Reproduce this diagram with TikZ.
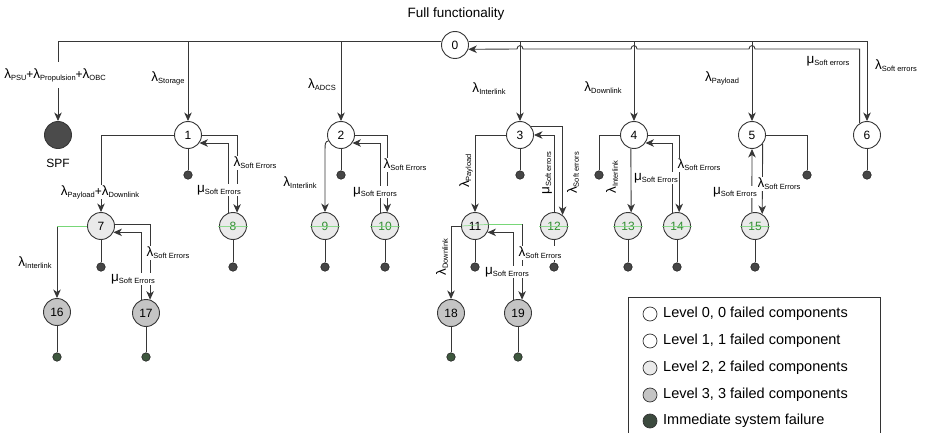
\documentclass[tikz,border=0pt]{standalone}
\usepackage{fontspec}
\setmainfont{Liberation Sans}
\usetikzlibrary{arrows.meta}

\definecolor{linec}{RGB}{55,55,55}
\definecolor{lvltwo}{RGB}{234,234,234}
\definecolor{lvlthree}{RGB}{196,196,196}
\definecolor{spfc}{RGB}{75,75,75}
\definecolor{dotc}{RGB}{70,70,70}
\definecolor{dotthree}{RGB}{62,88,62}
\definecolor{failc}{RGB}{60,74,62}
\definecolor{gline}{RGB}{120,215,120}
\definecolor{gtext}{RGB}{50,140,50}

% transition rate: Greek letter with a lowered subscript word
\newcommand{\ratelabel}[2]{{\fontsize{13.5}{13.5}\selectfont #1}\raisebox{-1.8pt}{\fontsize{7.5}{8}\selectfont #2}}
\newcommand{\lamsub}[1]{\ratelabel{λ}{#1}}
\newcommand{\musub}[1]{\ratelabel{μ}{#1}}
\newcommand{\plussign}{{\fontsize{12}{12}\selectfont +}}

\begin{document}
\begin{tikzpicture}[x=1pt,y=-1pt,
  state/.style={circle,draw=linec,line width=0.9pt,minimum size=27pt,inner sep=0pt,
                font=\fontsize{12}{12}\selectfont},
  lone/.style={state,fill=white},
  ltwo/.style={state,fill=lvltwo},
  ltwog/.style={state,fill=lvltwo,text=gtext},
  lthree/.style={state,fill=lvlthree},
  sink/.style={circle,draw=black!85,fill=dotc,line width=0.6pt,minimum size=8.5pt,inner sep=0pt},
  sinkg/.style={sink,fill=dotthree},
  wire/.style={draw=linec,line width=0.9pt},
  arr/.style={wire,-{Stealth[length=8.5pt,width=7.5pt,inset=2.5pt]}},
  gwire/.style={draw=gline,line width=0.9pt},
  gfaint/.style={draw=gline,line width=0.7pt,opacity=0.8},
  lab/.style={fill=white,inner sep=0.8pt},
  legtext/.style={anchor=west,font=\fontsize{14.5}{16}\selectfont,inner sep=0pt},
  legdot/.style={circle,draw=black!80,line width=0.7pt,minimum size=14pt,inner sep=0pt}]

\useasboundingbox (0,0) rectangle (929,433);
\fill[white] (0,0) rectangle (929,433);

% title
\node[font=\fontsize{13.5}{15}\selectfont] (title) at (456,14) {Full functionality};

% ---- states ----
\node[lone] (n0) at (455,45) {0};
\node[state,fill=spfc] (spf) at (58,135) {};
\node[font=\fontsize{12}{12}\selectfont] (spflab) at (58,163) {SPF};

\node[lone] (n1) at (188,135) {1};
\node[lone] (n2) at (341,135) {2};
\node[lone] (n3) at (520,135) {3};
\node[lone] (n4) at (634,135) {4};
\node[lone] (n5) at (752,135) {5};
\node[lone] (n6) at (867,135) {6};

\node[ltwo]  (n7)  at (101,226) {7};
\node[ltwog] (n8)  at (233,226) {8};
\node[ltwog] (n9)  at (325,226) {9};
\node[ltwog] (n10) at (385,226) {10};
\node[ltwo]  (n11) at (475,226) {11};
\node[ltwog] (n12) at (554,226) {12};
\node[ltwog] (n13) at (628,226) {13};
\node[ltwog] (n14) at (677,226) {14};
\node[ltwog] (n15) at (755,226) {15};

\node[lthree] (n16) at (57,312) {16};
\node[lthree] (n17) at (146,313) {17};
\node[lthree] (n18) at (451,313) {18};
\node[lthree] (n19) at (518,313) {19};

% ---- failure sinks ----
\node[sink] (d1) at (188,175) {};
\node[sink] (d2) at (341,175) {};
\node[sink] (d3) at (520,175) {};
\node[sink] (d4) at (599,175) {};
\node[sink] (d5) at (807,175) {};
\node[sink] (d6) at (867,175) {};
\node[sink] (d7)  at (101,267) {};
\node[sink] (d8)  at (233,267) {};
\node[sink] (d9)  at (325,267) {};
\node[sink] (d10) at (385,267) {};
\node[sink] (d11) at (475,267) {};
\node[sink] (d12) at (554,267) {};
\node[sink] (d13) at (628,267) {};
\node[sink] (d14) at (677,267) {};
\node[sink] (d15) at (755,267) {};
\node[sinkg] (d16) at (57,357) {};
\node[sinkg] (d17) at (146,357) {};
\node[sinkg] (d18) at (451,357) {};
\node[sinkg] (d19) at (518,357) {};

% ---- transitions out of full functionality ----
\draw[arr] (n0.167) -| (spf.north);
\draw[arr] (n0.167) -| (n1.north);
\draw[arr] (n0.167) -| (n2.north);
\draw[arr] (n0.13) -| (n3.north);
\draw[arr] (n0.13) -| (n4.north);
\draw[arr] (n0.13) -| (n5.north);
\draw[arr] (n0.13) -| (n6.north);
% repair of soft errors back to state 0, hopping over the drops
\draw[arr] (n6.122) |- (755,49) .. controls (755,44.5) and (749,44.5) .. (749,49)
  -- (637,49) .. controls (637,44.5) and (631,44.5) .. (631,49)
  -- (523,49) .. controls (523,44.5) and (517,44.5) .. (517,49) -- (n0.-18);

% ---- level 1 ----
\draw[wire] (n1) -- (d1);
\draw[arr] (n1.west) -| (n7.north);
\draw[arr] (n1.east) -| (n8.73);
\draw[arr] (n8.107) |- (n1.-35);

\draw[wire] (n2) -- (d2);
\draw[arr] (n2.205) .. controls (325,142) .. (325,156) -- (n9.north);
\draw[arr] (n2.east) -| (n10.81);
\draw[arr] (n10.110) |- (n2.-35);

\draw[wire] (n3) -- (d3);
\draw[arr] (n3.west) -| (n11.north);
\draw[arr] (n3.36) -| (n12.52);
\draw[arr] (n12.north) |- (n3.east);

\draw[wire] (n4.west) -| (d4.north);
\draw[arr] (n4.257) -- (n13.77);
\draw[arr] (n4.east) -| (n14.81);
\draw[arr] (n14.107) |- (n4.-35);

\draw[wire] (n5.east) -| (d5.north);
\draw[arr] (n5.-40) -- (n15.59);
\draw[arr] (n15.103) -- (n5.south);

\draw[wire] (n6) -- (d6);

% ---- level 2 ----
\foreach \s/\d in {n7/d7,n8/d8,n9/d9,n10/d10,n11/d11,n12/d12,n13/d13,n14/d14,n15/d15}
  \draw[wire] (\s) -- (\d);

\draw[arr] (n7.west) -| (n16.north);
\draw[gwire] (n7.west) -- (n16.north |- n7.west);
\draw[arr] (n7.7) -| (n17.73);
\draw[arr] (n17.107) |- (n7.-27);

\draw[arr] (n11.west) -| (n18.north);
\draw[arr] (n11.7) -| (n19.73);
\draw[gwire] (n11.7) -- (n19.73 |- n11.7);
\draw[arr] (n19.107) |- (n11.-27);

% green trace lines across level 2 states
\foreach \s in {n8,n9,n10,n12,n13,n14,n15}
  \draw[gfaint] ([xshift=-15pt]\s.center) -- ([xshift=15pt]\s.center);
\draw[gfaint] ([xshift=-13pt]n11.center) -- (n11.7);

% ---- level 3 ----
\foreach \s/\d in {n16/d16,n17/d17,n18/d18,n19/d19}
  \draw[wire] (\s) -- (\d);

% ---- rate labels ----
\node[lab,inner ysep=6pt] (r0) at (55,75) {\lamsub{PSU}\plussign\lamsub{Propulsion}\plussign\lamsub{OBC}};
\node (r1) at (168,78) {\lamsub{Storage}};
\node (r2) at (322,85) {\lamsub{ADCS}};
\node (r3) at (489,89) {\lamsub{Interlink}};
\node (r4) at (603,88) {\lamsub{Downlink}};
\node (r5) at (722,78) {\lamsub{Payload}};
\node (r6m) at (828,61) {\musub{Soft errors}};
\node (r6l) at (896,66) {\lamsub{Soft errors}};

\node[lab] (r17) at (100,192) {\lamsub{Payload}\plussign\lamsub{Downlink}};
\node[lab] (r18l) at (255,163) {\lamsub{Soft Errors}};
\node[lab] (r18m) at (219,190) {\musub{Soft Errors}};

\node (r29) at (300,183) {\lamsub{Interlink}};
\node[lab] (r210l) at (405,165) {\lamsub{Soft Errors}};
\node[lab] (r210m) at (375,192) {\musub{Soft Errors}};

\node[rotate=90] (r311) at (466,171) {\lamsub{Payload}};
\node[rotate=90] (r312m) at (547,173) {\musub{Soft errors}};
\node[rotate=90] (r312l) at (573,173) {\lamsub{Soft errors}};

\node[rotate=90] (r413) at (612,177) {\lamsub{Interlink}};
\node[lab] (r414l) at (699,165) {\lamsub{Soft Errors}};
\node[lab] (r414m) at (656,178) {\musub{Soft Errors}};

\node[lab] (r515l) at (779,184) {\lamsub{Soft Errors}};
\node[lab] (r515m) at (735,192) {\musub{Soft Errors}};

\node (r716) at (35,263) {\lamsub{Interlink}};
\node[lab] (r717l) at (168,253) {\lamsub{Soft Errors}};
\node[lab] (r717m) at (133,279) {\musub{Soft Errors}};

\node[rotate=90] (r1118) at (442,257) {\lamsub{Downlink}};
\node[lab] (r1119l) at (540,253) {\lamsub{Soft Errors}};
\node[lab] (r1119m) at (507,272) {\musub{Soft Errors}};

% ---- legend ----
\draw[draw=black!80,line width=0.8pt] (628,297) rectangle (880,445);
\node[legdot,fill=white]    (k0) at (650,314) {};
\node[legdot,fill=white]    (k1) at (650,341) {};
\node[legdot,fill=lvltwo]   (k2) at (650,368) {};
\node[legdot,fill=lvlthree] (k3) at (650,395) {};
\node[legdot,fill=failc]    (k4) at (650,421) {};
\node[legtext] (t0) at (663,314) {Level 0, 0 failed components};
\node[legtext] (t1) at (663,341) {Level 1, 1 failed component};
\node[legtext] (t2) at (663,368) {Level 2, 2 failed components};
\node[legtext] (t3) at (663,395) {Level 3, 3 failed components};
\node[legtext] (t4) at (663,421) {Immediate system failure};
\end{tikzpicture}
\end{document}
